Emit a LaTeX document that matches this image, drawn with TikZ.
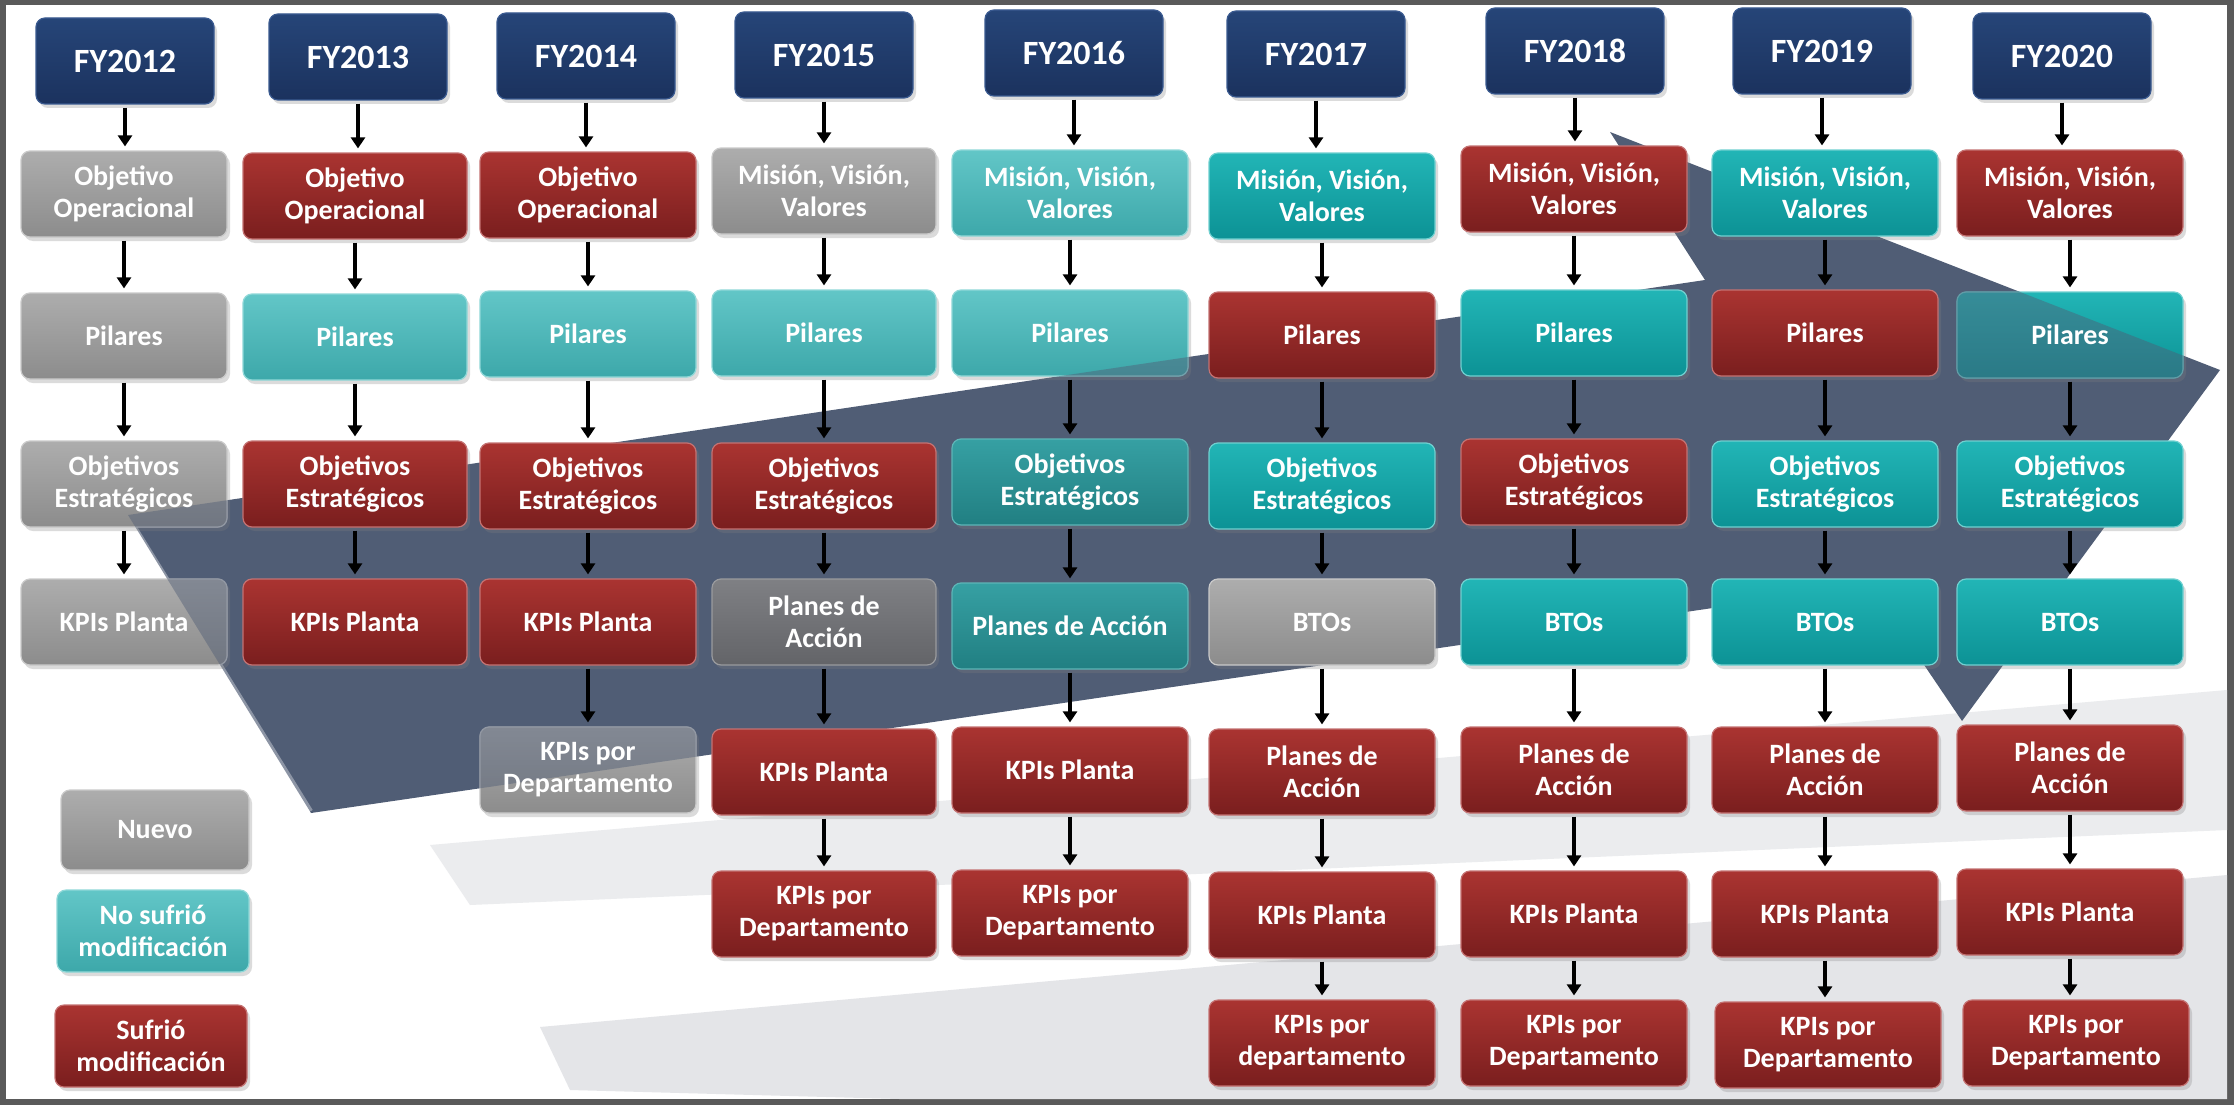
\documentclass[tikz,border=0pt]{standalone}
\usepackage{fontspec}
\setmainfont{Carlito}
\usetikzlibrary{arrows.meta,shadows,calc}
\definecolor{frameC}{HTML}{5A5A5A}
\definecolor{chevC}{HTML}{505D75}
\definecolor{navyT}{HTML}{264578}
\definecolor{navyB}{HTML}{1B325E}
\definecolor{navyD}{HTML}{3A5A90}
\definecolor{redT}{HTML}{AA3431}
\definecolor{redB}{HTML}{7A1E1E}
\definecolor{redD}{HTML}{C47272}
\definecolor{greyT}{HTML}{ADADAD}
\definecolor{greyB}{HTML}{8C8C8C}
\definecolor{greyD}{HTML}{CACACA}
\definecolor{lteaT}{HTML}{62C6C7}
\definecolor{lteaB}{HTML}{3DA8AA}
\definecolor{lteaD}{HTML}{90D8D8}
\definecolor{teaT}{HTML}{22B5B6}
\definecolor{teaB}{HTML}{0C9295}
\definecolor{teaD}{HTML}{70D0D0}
\definecolor{dteaT}{HTML}{36A0A3}
\definecolor{dteaB}{HTML}{217F82}
\definecolor{dteaD}{HTML}{5DB5B7}
\definecolor{dgreyT}{HTML}{7F8084}
\definecolor{dgreyB}{HTML}{636468}
\definecolor{dgreyD}{HTML}{9A9B9E}
\definecolor{bandC}{HTML}{EBECEE}
\definecolor{bandD}{HTML}{E4E5E8}
\pgfdeclarehorizontalshading{bandfade}{100bp}{color(0bp)=(white); color(25bp)=(bandC); color(100bp)=(bandC)}
\pgfdeclarehorizontalshading{bandfadeb}{100bp}{color(0bp)=(white); color(25bp)=(bandD); color(100bp)=(bandD)}
\newcommand\boxfont{\fontsize{28}{32}\selectfont\bfseries}
\newcommand\hdrfont{\fontsize{34}{38}\selectfont\bfseries}
\newcommand\myarrow[2]{\draw[arr] (#1.south) -- (#1.south |- #2.north);}
\newcommand\chevpath{(128,515) -- (311,813) -- (1870,585) -- (1962,721) -- (2220,370) -- (1610,132) -- (1705,280) -- cycle}
\tikzset{
  bx/.style={rounded corners=9pt, minimum width=#1, minimum height=86pt, align=center,
    text=white, font=\boxfont, inner sep=3pt, line width=1.2pt,
    drop shadow={shadow xshift=3pt, shadow yshift=-4pt, opacity=0.28}},
  bx/.default=224pt,
  txt/.style={align=center, text=white, font=\boxfont, inner sep=0pt},
  hdr/.style={rounded corners=9pt, minimum width=178pt, minimum height=86pt,
    top color=navyT, bottom color=navyB, draw=navyD, line width=1.2pt,
    text=white, font=\hdrfont,
    drop shadow={shadow xshift=3pt, shadow yshift=-4pt, opacity=0.28}},
  cRed/.style={top color=redT, bottom color=redB, draw=redD},
  cGrey/.style={top color=greyT, bottom color=greyB, draw=greyD},
  cLTeal/.style={top color=lteaT, bottom color=lteaB, draw=lteaD},
  cTeal/.style={top color=teaT, bottom color=teaB, draw=teaD},
  cDTeal/.style={top color=dteaT, bottom color=dteaB, draw=dteaD},
  cDGrey/.style={top color=dgreyT, bottom color=dgreyB, draw=dgreyD},
  arr/.style={line width=4.5pt, -{Triangle[width=14pt,length=11pt]}, shorten <=3pt, shorten >=4pt},
}
\begin{document}
\begin{tikzpicture}[x=1pt,y=-1pt]
\useasboundingbox (0,0) rectangle (2234,1105);
\fill[frameC] (0,0) rectangle (2234,1105);
\fill[white] (6,5) rectangle (2227,1099);
% background reflections
\shade[shading=bandfade] (430,845) -- (2227,690) -- (2227,830) -- (470,905) -- cycle;
\shade[shading=bandfadeb] (540,1027) -- (2227,875) -- (2227,1099) -- (900,1099) -- (570,1090) -- cycle;
% chevron
\fill[chevC] \chevpath;
\draw[white, opacity=0.35, line width=4pt] (130,519) -- (311,811);

% headers
\node[hdr] (h1) at (125,61) {FY2012};
\node[hdr] (h2) at (358,57) {FY2013};
\node[hdr] (h3) at (586,56) {FY2014};
\node[hdr] (h4) at (824,55) {FY2015};
\node[hdr] (h5) at (1074,53) {FY2016};
\node[hdr] (h6) at (1316,54) {FY2017};
\node[hdr] (h7) at (1575,51) {FY2018};
\node[hdr] (h8) at (1822,51) {FY2019};
\node[hdr] (h9) at (2062,56) {FY2020};

% FY2012
\node[bx=206pt, cGrey] (b11) at (124,194) {Objetivo\\Operacional};
\node[bx=206pt, cGrey] (b12) at (124,336) {Pilares};
\node[bx=206pt, cGrey] (b13) at (124,484) {};
\node[bx=206pt, cGrey] (b14) at (124,622) {};
% FY2013
\node[bx=224pt, cRed] (b21) at (355,196) {Objetivo\\Operacional};
\node[bx=224pt, cLTeal] (b22) at (355,337) {Pilares};
\node[bx=224pt, cRed] (b23) at (355,484) {Objetivos\\Estratégicos};
\node[bx=224pt, cRed] (b24) at (355,622) {KPIs Planta};
% FY2014
\node[bx=216pt, cRed] (b31) at (588,195) {Objetivo\\Operacional};
\node[bx=216pt, cLTeal] (b32) at (588,334) {Pilares};
\node[bx=216pt, cRed] (b33) at (588,486) {Objetivos\\Estratégicos};
\node[bx=216pt, cRed] (b34) at (588,622) {KPIs Planta};
\node[bx=216pt, cGrey] (b35) at (588,770) {};
% FY2015
\node[bx=224pt, cGrey] (b41) at (824,191) {Misión, Visión,\\Valores};
\node[bx=224pt, cLTeal] (b42) at (824,333) {Pilares};
\node[bx=224pt, cRed] (b43) at (824,486) {Objetivos\\Estratégicos};
\node[bx=224pt, cDGrey] (b44) at (824,622) {Planes de\\Acción};
\node[bx=224pt, cRed] (b45) at (824,772) {KPIs Planta};
\node[bx=224pt, cRed] (b46) at (824,914) {KPIs por\\Departamento};
% FY2016
\node[bx=236pt, cLTeal] (b51) at (1070,193) {Misión, Visión,\\Valores};
\node[bx=236pt, cLTeal] (b52) at (1070,333) {};
\node[bx=236pt, cDTeal] (b53) at (1070,482) {Objetivos\\Estratégicos};
\node[bx=236pt, cDTeal] (b54) at (1070,626) {Planes de Acción};
\node[bx=236pt, cRed] (b55) at (1070,770) {KPIs Planta};
\node[bx=236pt, cRed] (b56) at (1070,913) {KPIs por\\Departamento};
% FY2017
\node[bx=226pt, cTeal] (b61) at (1322,196) {Misión, Visión,\\Valores};
\node[bx=226pt, cRed] (b62) at (1322,335) {Pilares};
\node[bx=226pt, cTeal] (b63) at (1322,486) {Objetivos\\Estratégicos};
\node[bx=226pt, cGrey] (b64) at (1322,622) {BTOs};
\node[bx=226pt, cRed] (b65) at (1322,772) {Planes de\\Acción};
\node[bx=226pt, cRed] (b66) at (1322,915) {KPIs Planta};
\node[bx=226pt, cRed] (b67) at (1322,1043) {KPIs por\\departamento};
% FY2018
\node[bx=226pt, cRed] (b71) at (1574,189) {Misión, Visión,\\Valores};
\node[bx=226pt, cTeal] (b72) at (1574,333) {Pilares};
\node[bx=226pt, cRed] (b73) at (1574,482) {Objetivos\\Estratégicos};
\node[bx=226pt, cTeal] (b74) at (1574,622) {BTOs};
\node[bx=226pt, cRed] (b75) at (1574,770) {Planes de\\Acción};
\node[bx=226pt, cRed] (b76) at (1574,914) {KPIs Planta};
\node[bx=226pt, cRed] (b77) at (1574,1043) {KPIs por\\Departamento};
% FY2019
\node[bx=226pt, cTeal] (b81) at (1825,193) {Misión, Visión,\\Valores};
\node[bx=226pt, cRed] (b82) at (1825,333) {Pilares};
\node[bx=226pt, cTeal] (b83) at (1825,484) {Objetivos\\Estratégicos};
\node[bx=226pt, cTeal] (b84) at (1825,622) {BTOs};
\node[bx=226pt, cRed] (b85) at (1825,770) {Planes de\\Acción};
\node[bx=226pt, cRed] (b86) at (1825,914) {KPIs Planta};
\node[bx=226pt, cRed] (b87) at (1828,1045) {KPIs por\\Departamento};
% FY2020
\node[bx=226pt, cRed] (b91) at (2070,193) {Misión, Visión,\\Valores};
\node[bx=226pt, cTeal] (b92) at (2070,335) {};
\node[bx=226pt, cTeal] (b93) at (2070,484) {Objetivos\\Estratégicos};
\node[bx=226pt, cTeal] (b94) at (2070,622) {BTOs};
\node[bx=226pt, cRed] (b95) at (2070,768) {Planes de\\Acción};
\node[bx=226pt, cRed] (b96) at (2070,912) {KPIs Planta};
\node[bx=226pt, cRed] (b97) at (2076,1043) {KPIs por\\Departamento};

% legend
\node[bx=188pt, minimum height=80pt, cGrey] (n1) at (155,830) {Nuevo};
\node[bx=192pt, minimum height=82pt, cLTeal] (n2) at (153,931) {No sufrió\\modificación};
\node[bx=192pt, minimum height=82pt, cRed] (n3) at (151,1046) {Sufrió\\modificación};

% translucent overlap of chevron on some boxes
\begin{scope}
\clip[rounded corners=9pt] (b13.south west) rectangle (b13.north east)
  (b14.south west) rectangle (b14.north east)
  (b35.south west) rectangle (b35.north east)
  (b52.south west) rectangle (b52.north east)
  (b92.south west) rectangle (b92.north east);
\fill[chevC, opacity=0.45] \chevpath;
\end{scope}
% labels of those boxes, on top
\node[txt] (t13) at (b13) {Objetivos\\Estratégicos};
\node[txt] (t14) at (b14) {KPIs Planta};
\node[txt] (t35) at (b35) {KPIs por\\Departamento};
\node[txt] (t52) at (b52) {Pilares};
\node[txt] (t92) at (b92) {Pilares};

% arrows
\myarrow{h1}{b11}\myarrow{b11}{b12}\myarrow{b12}{b13}\myarrow{b13}{b14}
\myarrow{h2}{b21}\myarrow{b21}{b22}\myarrow{b22}{b23}\myarrow{b23}{b24}
\myarrow{h3}{b31}\myarrow{b31}{b32}\myarrow{b32}{b33}\myarrow{b33}{b34}\myarrow{b34}{b35}
\myarrow{h4}{b41}\myarrow{b41}{b42}\myarrow{b42}{b43}\myarrow{b43}{b44}\myarrow{b44}{b45}\myarrow{b45}{b46}
\myarrow{h5}{b51}\myarrow{b51}{b52}\myarrow{b52}{b53}\myarrow{b53}{b54}\myarrow{b54}{b55}\myarrow{b55}{b56}
\myarrow{h6}{b61}\myarrow{b61}{b62}\myarrow{b62}{b63}\myarrow{b63}{b64}\myarrow{b64}{b65}\myarrow{b65}{b66}\myarrow{b66}{b67}
\myarrow{h7}{b71}\myarrow{b71}{b72}\myarrow{b72}{b73}\myarrow{b73}{b74}\myarrow{b74}{b75}\myarrow{b75}{b76}\myarrow{b76}{b77}
\myarrow{h8}{b81}\myarrow{b81}{b82}\myarrow{b82}{b83}\myarrow{b83}{b84}\myarrow{b84}{b85}\myarrow{b85}{b86}\myarrow{b86}{b87}
\myarrow{h9}{b91}\myarrow{b91}{b92}\myarrow{b92}{b93}\myarrow{b93}{b94}\myarrow{b94}{b95}\myarrow{b95}{b96}\myarrow{b96}{b97}
\end{tikzpicture}
\end{document}
